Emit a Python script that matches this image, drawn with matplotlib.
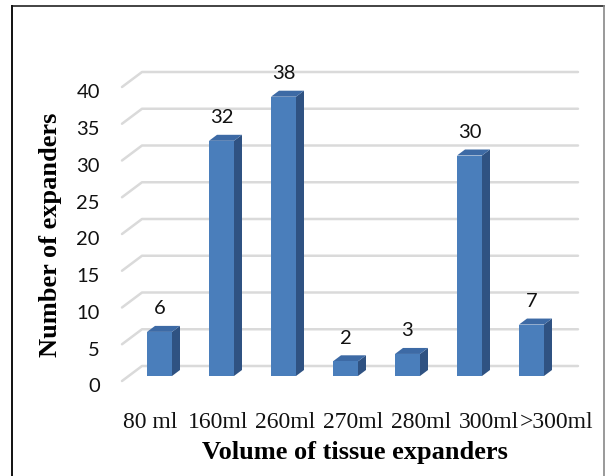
import matplotlib
matplotlib.use("Agg")
import matplotlib.pyplot as plt
from matplotlib.patches import Polygon
from matplotlib.lines import Line2D

categories = ['80 ml', '160ml', '260ml', '270ml', '280ml', '300ml', '>300ml']
counts = [6, 32, 38, 2, 3, 30, 7]
yticks = [0, 5, 10, 15, 20, 25, 30, 35, 40]

W, H = 606, 477
fig = plt.figure(figsize=(W / 100, H / 100), dpi=100)
fig.patch.set_facecolor('white')

# pixel scale of the plot: one category = 62 px, one unit = 7.35 px
PX_X, PX_Y = 62.0, 7.35
X0_PX, Y0_PX = 152.5, 382.0  # front floor position of category 0, value 0

ax = fig.add_axes([0, 0, 1, 1])
ax.set_xlim(-X0_PX / PX_X, (W - X0_PX) / PX_X)
ax.set_ylim((Y0_PX - H) / PX_Y, Y0_PX / PX_Y)
ax.axis('off')


def px(dx, dy):
    # pixel offset (right, up) -> data offset
    return dx / PX_X, dy / PX_Y


grid_col = '#dadada'
left_i = (122 - X0_PX) / PX_X
right_i = (558 - X0_PX) / PX_X
ddx, ddy = px(20, 15)
for t in yticks:
    ax.plot([left_i, left_i + ddx, right_i + ddx], [t, t + ddy, t + ddy],
            color=grid_col, lw=1.8, solid_capstyle='round', zorder=1)
    ax.annotate(str(t), (left_i, t), xytext=(-22, -5), textcoords='offset pixels',
                ha='right', va='center', fontsize=14.5, family='Lato', color='#111111')

front_col = '#4a7ebb'
side_col = '#2f5282'
top_col = '#3d6aa5'
fx, fy = px(7, 5)       # bar front face offset into depth
bx, by = px(8, 6)       # bar depth
hw = 12.5 / PX_X
for i, v in enumerate(counts):
    x0, x1 = i + fx - hw, i + fx + hw
    y0, y1 = fy, v + fy
    ax.add_patch(Polygon([(x1, y0), (x1 + bx, y0 + by), (x1 + bx, y1 + by), (x1, y1)],
                         closed=True, facecolor=side_col, edgecolor='none', zorder=3))
    ax.add_patch(Polygon([(x0, y1), (x1, y1), (x1 + bx, y1 + by), (x0 + bx, y1 + by)],
                         closed=True, facecolor=top_col, edgecolor='none', zorder=3))
    ax.add_patch(Polygon([(x0, y0), (x1, y0), (x1, y1), (x0, y1)],
                         closed=True, facecolor=front_col, edgecolor='none', zorder=4))
    ax.annotate(str(v), (i + fx, y1), xytext=(0, 24), textcoords='offset pixels',
                ha='center', va='center', fontsize=14.5, family='Lato', color='#111111')

# category labels sit a bit wider apart than the bars
lab = fig.add_axes([0, 0, 1, 1])
lab.set_xlim(-150 / 67.8, (W - 150) / 67.8)
lab.set_ylim(H, 0)
lab.axis('off')
for i, c in enumerate(categories):
    lab.text(i, 423, c, ha='center', va='center', fontsize=17,
             family='Liberation Serif', color='#111111')

fig.text(355 / W, 1 - 453 / H, 'Volume of tissue expanders', ha='center', va='center',
         fontsize=19, family='Liberation Serif', fontweight='bold')
fig.text(51 / W, 1 - 235 / H, 'Number of expanders', ha='center', va='center',
         rotation=90, fontsize=19, family='Liberation Serif', fontweight='bold')

# outer frame
fig.add_artist(Line2D([12 / W, 604 / W], [1 - 7 / H, 1 - 7 / H], color='#222222', lw=1.2))
fig.add_artist(Line2D([12 / W, 12 / W], [0, 1 - 7 / H], color='#111111', lw=1.4))
fig.add_artist(Line2D([604 / W, 604 / W], [0, 1 - 7 / H], color='#888888', lw=1.2))

fig.savefig('out.png', dpi=100)
